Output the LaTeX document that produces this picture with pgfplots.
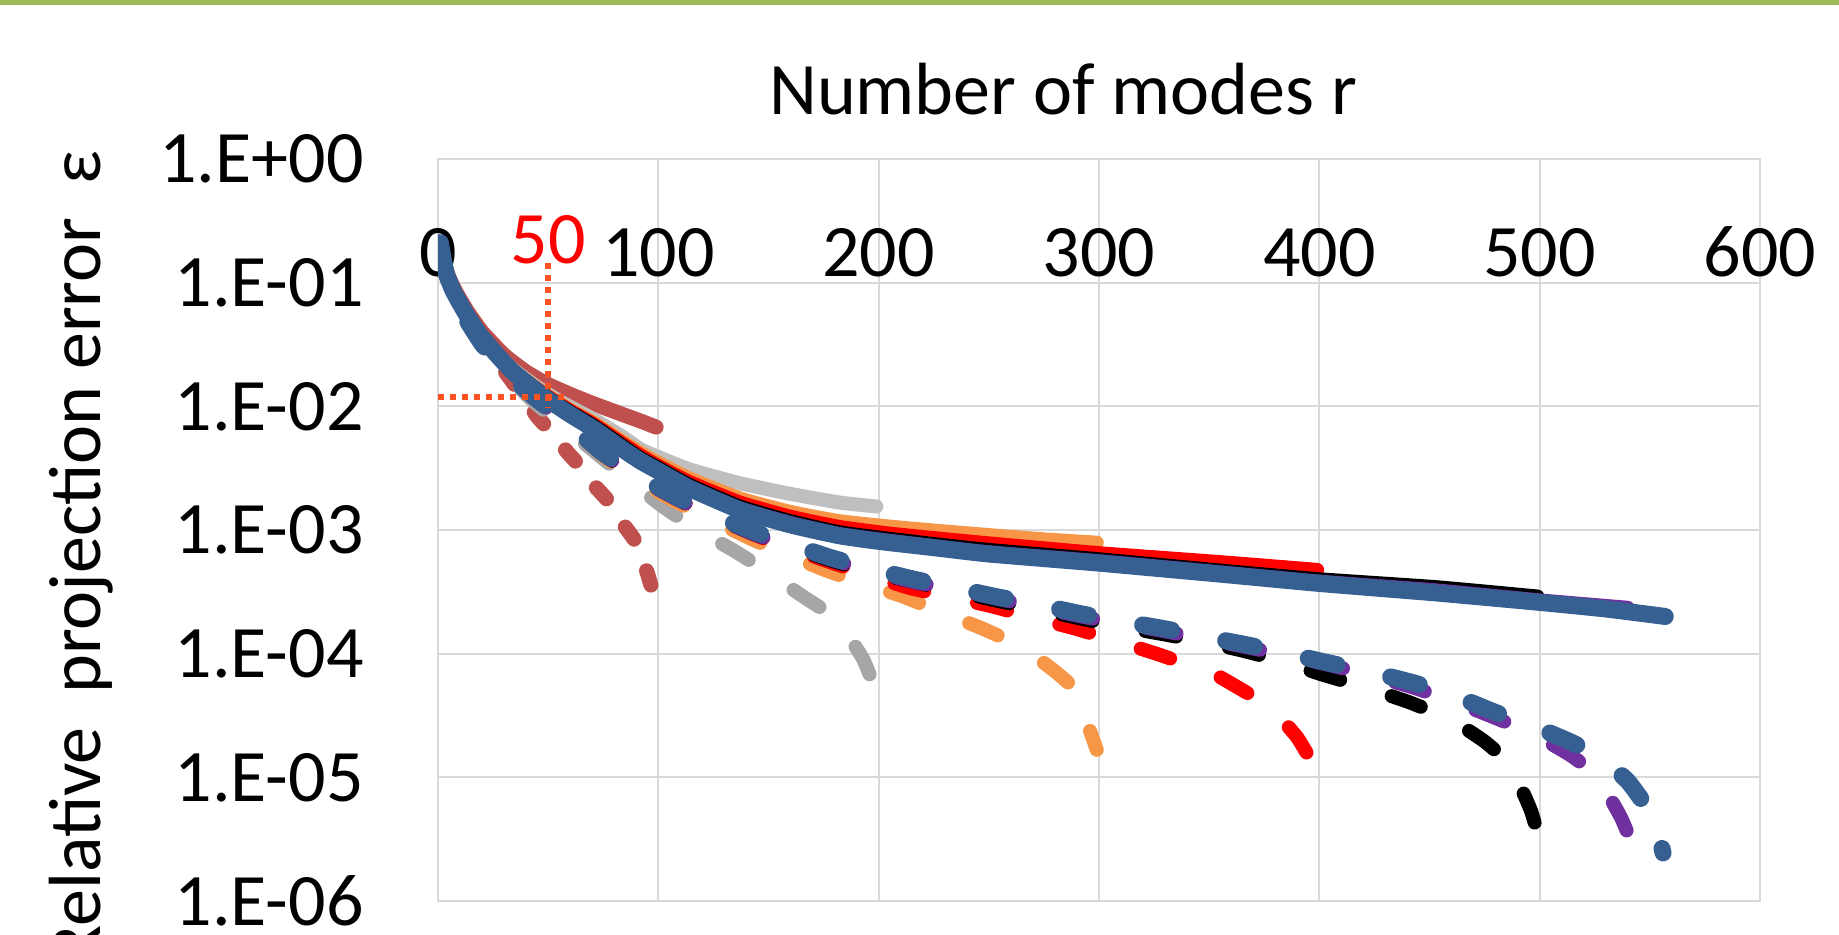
\documentclass[border=0pt]{standalone}
\usepackage{fontspec}
\setmainfont{Carlito}
\usepackage{pgfplots}
\pgfplotsset{compat=1.18}
\definecolor{cBrown}{HTML}{C0504D}
\definecolor{cGrayS}{HTML}{BFBFBF}
\definecolor{cGrayD}{HTML}{A6A6A6}
\definecolor{cOrange}{HTML}{F79646}
\definecolor{cRed}{HTML}{FF0000}
\definecolor{cBlack}{HTML}{000000}
\definecolor{cPurple}{HTML}{7030A0}
\definecolor{cBlue}{HTML}{376092}
\definecolor{cGrid}{HTML}{D9D9D9}
\definecolor{cGreen}{HTML}{9BBB59}
\definecolor{cDot}{HTML}{FA5220}
\newcommand\F{\fontsize{37}{44}\selectfont}
\begin{document}
\begin{tikzpicture}
\useasboundingbox (0,0) rectangle (919.5pt,-467pt);
\clip (0,0) rectangle (919.5pt,-467pt);
\fill[white] (0,0) rectangle (919.5pt,-467pt);
\fill[cGreen] (0,0) rectangle (919.5pt,-2.5pt);
\node[anchor=base, font=\F, inner sep=0pt] at (531.5pt,-57pt) {Number of modes r};
\node[rotate=90, anchor=base east, font=\F, inner sep=0pt] at (50pt,-75pt) {Relative\ \ projection error\ \ ε};
\begin{axis}[
  at={(219pt,-450.5pt)}, anchor=south west,
  width=661pt, height=371pt, scale only axis,
  xmin=0, xmax=600, ymode=log, ymin=1e-6, ymax=1,
  xtick={0,100,200,300,400,500,600},
  xticklabels={0,100,200,300,400,500,600},
  ytick={1e-6,1e-5,1e-4,1e-3,1e-2,1e-1,1},
  yticklabels={1.E-06,1.E-05,1.E-04,1.E-03,1.E-02,1.E-01,1.E+00},
  xticklabel pos=upper,
  major tick length=0pt, minor tick length=0pt,
  grid=major, major grid style={draw=cGrid, line width=1pt},
  axis line style={draw=cGrid, line width=1pt},
  tick label style={font=\F},
  xticklabel style={anchor=base, inner sep=0pt, yshift=-58.5pt},
  yticklabel style={anchor=east, inner sep=0pt, xshift=-37pt},
  no markers,
  every axis plot/.append style={line cap=round, line join=round, smooth, tension=0.3},
  dsh/.style={dash pattern=on 15.5pt off 27pt},
  dshb/.style={dash pattern=on 14.75pt off 27.5pt},
  dshs/.style={dash pattern=on 7.5pt off 17pt},
]
% N = 100
\addplot[cBrown, line width=7.5pt] coordinates {(1,0.21) (3,0.14) (5,0.11) (8,0.085) (13,0.06) (20,0.04) (30,0.026) (40,0.019) (50,0.0150) (60,0.0125) (70,0.0106) (83,0.0087) (92,0.0076) (99,0.0068)};
\addplot[cBrown, line width=7.5pt, dshs] coordinates {(1,0.21) (5,0.11) (10,0.065) (15,0.045) (20,0.034) (27,0.023) (32,0.0175) (38,0.0125) (45,0.0083) (52,0.0060) (59,0.0042) (65,0.0032) (69,0.0025) (74,0.0020) (78,0.00166) (82,0.00125) (86,0.00100) (90,0.00079) (93,0.00055) (95,0.00045) (97,0.00034)};
% N = 200
\addplot[cGrayS, line width=7pt] coordinates {(1,0.21) (2,0.155) (4,0.115) (7,0.085) (13,0.055) (19,0.038) (26,0.0275) (34,0.020) (43,0.0152) (51,0.0122) (60,0.0099) (71,0.0078) (83,0.0058) (92,0.0045) (100,0.0039) (114,0.0031) (137,0.00239) (160,0.00196) (182,0.00167) (199,0.00155)};
\addplot[cGrayD, line width=7pt, dsh] coordinates {(1,0.21) (4,0.11) (7,0.08) (13,0.05) (20,0.031) (30,0.019) (42,0.0115) (56,0.0071) (71,0.0043) (86,0.0026) (102,0.00155) (118,0.00100) (135,0.00067) (147,0.00049) (158,0.00036) (167,0.00028) (176,0.00022) (182,0.00017) (188,0.000125) (193,0.000090) (197,0.000061)};
% N = 300
\addplot[cOrange, line width=7pt] coordinates {(1,0.21) (2,0.155) (4,0.115) (7,0.085) (13,0.055) (19,0.038) (26,0.027) (34,0.0196) (43,0.0148) (51,0.0118) (60,0.0094) (71,0.0073) (83,0.0053) (92,0.0042) (100,0.00350) (114,0.00262) (137,0.00180) (160,0.00140) (182,0.00118) (204,0.00107) (228,0.00098) (250,0.00091) (275,0.00084) (299,0.00079)};
\addplot[cOrange, line width=7pt, dsh] coordinates {(1,0.21) (4,0.11) (7,0.08) (13,0.05) (20,0.032) (30,0.0194) (44,0.0115) (60,0.0069) (74,0.0041) (90,0.0026) (107,0.00173) (124,0.00122) (142,0.00085) (158,0.00064) (175,0.00048) (193,0.00037) (211,0.00029) (229,0.000215) (247,0.000160) (260,0.000125) (272,0.000092) (280,0.000072) (288,0.000054) (292,0.000040) (295,0.0000265) (299,0.0000167)};
% N = 400
\addplot[cRed, line width=7pt] coordinates {(1,0.21) (2,0.155) (4,0.115) (7,0.085) (13,0.055) (19,0.038) (26,0.027) (34,0.0195) (43,0.0146) (51,0.0116) (60,0.0092) (71,0.0071) (83,0.0051) (92,0.0040) (100,0.00330) (114,0.00245) (137,0.00167) (160,0.00128) (182,0.00106) (204,0.00094) (228,0.00085) (250,0.00078) (300,0.00065) (355,0.00055) (399,0.000476)};
\addplot[cRed, line width=7pt, dsh] coordinates {(1,0.21) (4,0.11) (7,0.08) (13,0.05) (20,0.032) (30,0.0195) (44,0.0116) (60,0.0070) (74,0.0042) (90,0.0027) (107,0.00184) (124,0.00132) (142,0.00094) (160,0.00071) (178,0.00055) (196,0.00043) (214,0.00034) (232,0.00029) (252,0.00024) (270,0.000196) (289,0.000160) (307,0.000128) (326,0.000100) (340,0.000082) (352,0.000069) (361,0.000056) (370,0.000045) (378,0.000036) (384,0.000028) (390,0.000021) (396,0.0000140)};
% N = 500
\addplot[cBlack, line width=7pt] coordinates {(1,0.21) (2,0.155) (4,0.115) (7,0.085) (13,0.055) (19,0.038) (26,0.027) (34,0.0195) (43,0.0145) (51,0.0114) (60,0.0090) (71,0.0069) (83,0.0049) (92,0.0038) (100,0.00318) (114,0.00232) (137,0.00155) (160,0.00118) (182,0.00096) (200,0.00087) (228,0.00076) (250,0.00069) (300,0.00058) (355,0.00047) (400,0.000400) (453,0.000345) (499,0.000290)};
\addplot[cBlack, line width=7pt, dsh] coordinates {(1,0.21) (4,0.11) (7,0.08) (13,0.05) (20,0.032) (30,0.0195) (44,0.0116) (60,0.0070) (74,0.0042) (90,0.0027) (107,0.00183) (124,0.00131) (142,0.00095) (160,0.00073) (178,0.00057) (196,0.00046) (216,0.00038) (235,0.00032) (253,0.00027) (272,0.00023) (292,0.000192) (310,0.000165) (329,0.000144) (348,0.000124) (366,0.000105) (384,0.000086) (400,0.000069) (420,0.000054) (440,0.000041) (455,0.000032) (466,0.000025) (475,0.0000195) (483,0.0000147) (488,0.0000110) (492,0.0000079) (496,0.0000054) (499,0.0000036)};
% N = 540
\addplot[cPurple, line width=7pt] coordinates {(1,0.21) (2,0.155) (4,0.115) (7,0.085) (13,0.055) (19,0.038) (26,0.027) (34,0.0192) (43,0.0143) (51,0.0112) (60,0.0088) (71,0.0067) (83,0.0047) (92,0.0037) (100,0.00308) (114,0.00225) (137,0.00150) (160,0.00114) (182,0.00093) (200,0.00084) (228,0.00073) (250,0.00066) (300,0.00056) (355,0.000455) (400,0.000383) (453,0.000325) (500,0.000270) (540,0.000235)};
\addplot[cPurple, line width=7pt, dsh] coordinates {(1,0.21) (4,0.11) (7,0.08) (13,0.05) (20,0.032) (30,0.0194) (44,0.0114) (60,0.0069) (74,0.0042) (90,0.0027) (107,0.00183) (124,0.00132) (142,0.00095) (160,0.00074) (178,0.00058) (196,0.00047) (216,0.00038) (235,0.00033) (253,0.00028) (272,0.00024) (292,0.00020) (310,0.000176) (329,0.000153) (348,0.000131) (367,0.000113) (385,0.000097) (402,0.000083) (422,0.000068) (443,0.000053) (461,0.000041) (479,0.0000307) (497,0.0000225) (513,0.0000155) (521,0.0000122) (527,0.0000095) (532,0.0000068) (537,0.0000047) (541,0.0000032)};
% N = 557
\addplot[cBlue, line width=8.5pt, dshb] coordinates {(1,0.21) (4,0.11) (7,0.08) (13,0.05) (20,0.032) (30,0.0195) (44,0.0117) (60,0.0071) (74,0.0043) (90,0.0028) (107,0.0019) (124,0.00137) (142,0.00099) (160,0.00077) (178,0.00060) (196,0.00049) (216,0.00040) (235,0.00034) (253,0.00029) (272,0.00025) (292,0.00021) (310,0.000183) (329,0.000160) (348,0.000137) (367,0.000118) (385,0.000101) (402,0.000086) (422,0.000072) (443,0.000058) (461,0.000046) (479,0.000034) (497,0.000026) (515,0.0000190) (530,0.0000135) (540,0.0000093) (545,0.0000071) (550,0.0000053) (553,0.0000040) (556,0.00000245)};
\addplot[cBlue, line width=8.5pt] coordinates {(1,0.21) (2,0.155) (4,0.115) (7,0.085) (13,0.055) (19,0.038) (26,0.027) (34,0.019) (43,0.0141) (51,0.011) (60,0.0086) (71,0.0065) (83,0.0046) (92,0.0036) (100,0.0030) (114,0.00218) (137,0.00145) (160,0.00110) (182,0.00090) (200,0.00081) (228,0.00071) (250,0.00064) (300,0.00054) (355,0.00044) (400,0.00037) (453,0.00031) (500,0.00026) (530,0.00023) (557,0.00020)};
% marker lines at r = 50
\addplot[cDot, line width=3pt, line cap=butt, sharp plot, dash pattern=on 3pt off 3pt] coordinates {(50,0.143) (50,0.0097)};
\addplot[cDot, line width=3pt, line cap=butt, sharp plot, dash pattern=on 3pt off 3pt] coordinates {(0,0.0119) (57,0.0119)};
\node[anchor=base, text=red, font=\F, inner sep=0pt] at (axis cs:50,0.143) {50};
\end{axis}
\end{tikzpicture}
\end{document}
